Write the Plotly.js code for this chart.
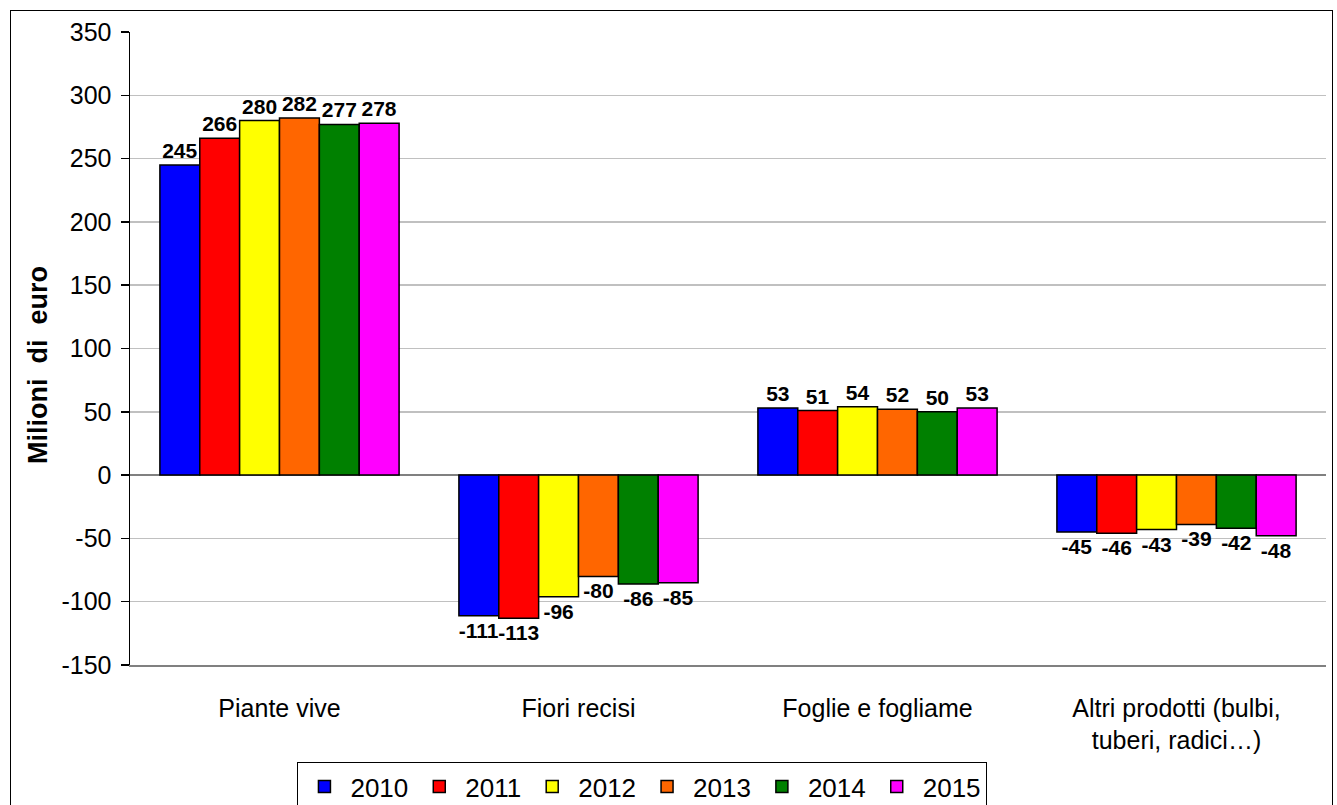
<!DOCTYPE html>
<html>
<head>
<meta charset="utf-8">
<script src="https://cdn.plot.ly/plotly-3.0.1.min.js"></script>
<style>
  html, body { margin: 0; padding: 0; background: #fff; overflow: hidden; width: 1337px; height: 805px; }
  #frame { position: absolute; left: 10px; top: 10px; width: 1323px; height: 840px;
           border: 1.5px solid #000; box-sizing: border-box; pointer-events: none; }
  #chart { position: absolute; left: 0; top: 0; width: 1337px; height: 850px; }
</style>
</head>
<body>
<div id="chart"></div>
<div id="frame"></div>
<script>
// Saldo commerciale per gruppo di prodotti floricoli, milioni di euro
const categories = ["Piante vive", "Fiori recisi", "Foglie e fogliame", "Altri prodotti (bulbi,<br>tuberi, radici…)"];
const years = ["2010", "2011", "2012", "2013", "2014", "2015"];
const colors = ["#0000ff", "#ff0000", "#ffff00", "#ff6600", "#008000", "#ff00ff"];

const v2010 = [245, -111, 53, -45];
const v2011 = [266, -113, 51, -46];
const v2012 = [280, -96, 54, -43];
const v2013 = [282, -80, 52, -39];
const v2014 = [277, -86, 50, -42];
const v2015 = [278, -85, 53, -48];
const series = [v2010, v2011, v2012, v2013, v2014, v2015];

const yTicks = [-150, -100, -50, 0, 50, 100, 150, 200, 250, 300, 350];

const font = "Liberation Sans, Arial, sans-serif";

const traces = series.map((vals, i) => ({
  type: "bar",
  name: years[i],
  x: categories,
  y: vals,
  marker: { color: colors[i], line: { color: "#000", width: 1.5 } },
  text: vals.map(String),
  textposition: "outside",
  constraintext: "none",
  cliponaxis: false,
  textfont: { family: font, size: 21, color: "#000", weight: "bold" },
  hoverinfo: "skip"
}));

const layout = {
  width: 1337,
  height: 850,
  margin: { l: 130, r: 11, t: 32, b: 185 },
  paper_bgcolor: "#fff",
  plot_bgcolor: "#fff",
  barmode: "group",
  bargap: 0.2,
  bargroupgap: 0,
  showlegend: true,
  legend: {
    orientation: "h",
    x: 0.14, xanchor: "left",
    y: -0.1532, yanchor: "top",
    bordercolor: "#000", borderwidth: 1,
    font: { family: font, size: 26, color: "#000" },
    itemwidth: 42,
    traceorder: "normal"
  },
  xaxis: {
    type: "category",
    showgrid: false,
    showline: true, linecolor: "#808080", linewidth: 1.5,
    ticks: "",
    ticklabelstandoff: 20,
    tickfont: { family: font, size: 25, color: "#000" },
    zeroline: false
  },
  yaxis: {
    range: [-150, 350],
    tickvals: yTicks,
    ticktext: yTicks.map(String),
    showgrid: true, gridcolor: "#c0c0c0", gridwidth: 1.5,
    zeroline: true, zerolinecolor: "#808080", zerolinewidth: 1.5,
    showline: true, linecolor: "#000", linewidth: 1.5,
    ticks: "outside", ticklen: 8, tickcolor: "#000", tickwidth: 1.5,
    tickfont: { family: font, size: 25, color: "#000" },
    ticklabelstandoff: 4
  },
  annotations: [{
    text: "Milioni\u00a0 di\u00a0 euro",
    xref: "paper", yref: "paper",
    x: -92 / 1196, y: (665 - 365) / 633,
    xanchor: "center", yanchor: "middle",
    textangle: -90, showarrow: false,
    font: { family: font, size: 27, color: "#000", weight: "bold" }
  }]
};

Plotly.newPlot("chart", traces, layout, { displayModeBar: false, staticPlot: true });
</script>
</body>
</html>
